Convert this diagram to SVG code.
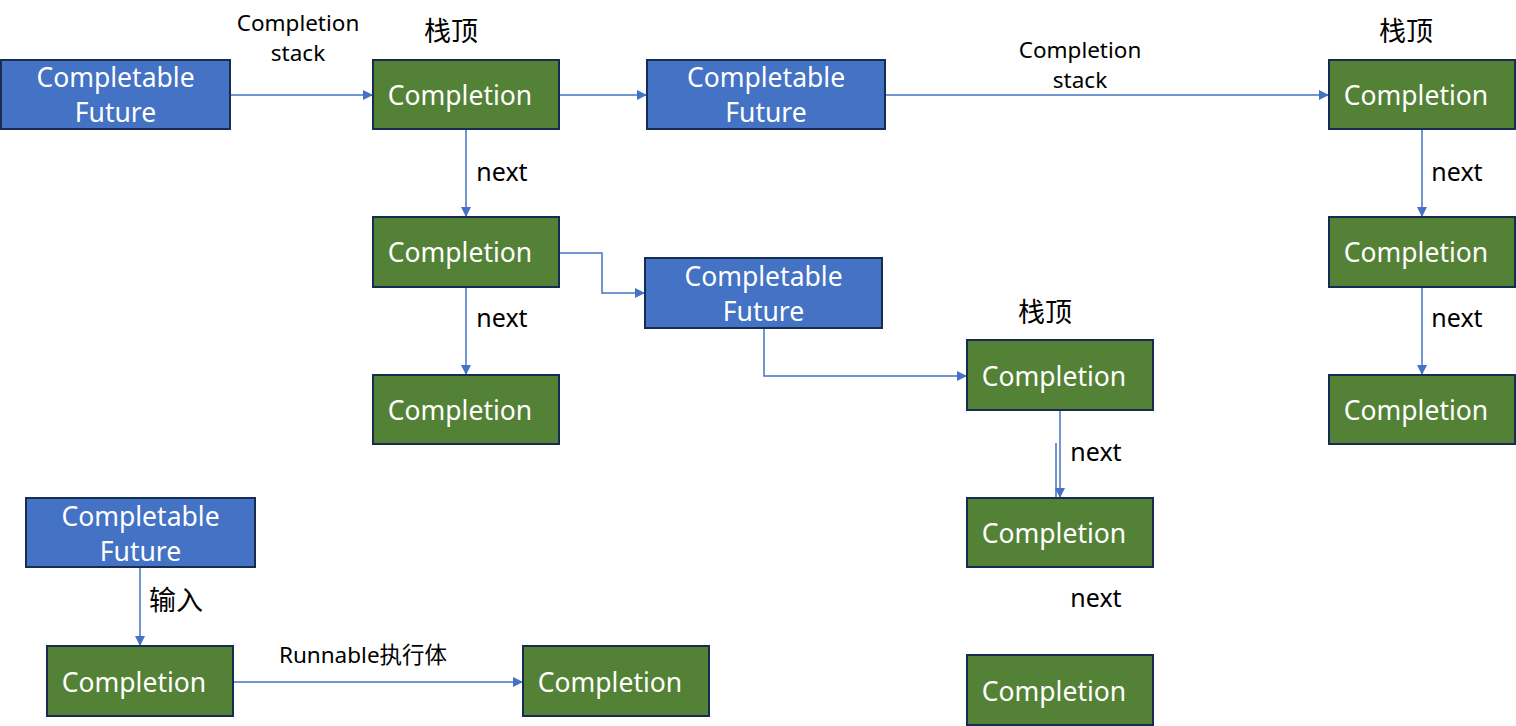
<svg xmlns="http://www.w3.org/2000/svg" width="1516" height="726" viewBox="0 0 1516 726">
<style>
.cf{fill:#4472C4;stroke:#172C51;stroke-width:2}
.cp{fill:#538135;stroke:#172C51;stroke-width:2}
.nt{font-family:"Noto Sans","Liberation Sans",sans-serif;font-size:26.5px;fill:#fff;text-anchor:middle}
.lb{font-family:"Noto Sans","Noto Sans CJK SC",sans-serif;font-size:25px;fill:#000;text-anchor:middle}
.lz{font-family:"Noto Sans CJK SC","Noto Sans",sans-serif;font-size:27px;fill:#000;text-anchor:middle}
.lc{font-family:"Noto Sans","Noto Sans CJK SC",sans-serif;font-size:22.5px;fill:#000;text-anchor:middle}
.cn{fill:none;stroke:#4472C4;stroke-width:1.5}
</style>
<defs>
<marker id="ah" markerWidth="10" markerHeight="10" refX="9" refY="5" orient="auto" markerUnits="userSpaceOnUse">
<path d="M0,0 L10,5 L0,10 z" fill="#4472C4"/>
</marker>
</defs>
<rect width="1516" height="726" fill="#fff"/>
<g id="connectors">
<path class="cn" d="M230,95 H372" marker-end="url(#ah)"/>
<path class="cn" d="M559,95 H646" marker-end="url(#ah)"/>
<path class="cn" d="M885,95 H1328" marker-end="url(#ah)"/>
<path class="cn" d="M466,129 V216" marker-end="url(#ah)"/>
<path class="cn" d="M466,287 V374" marker-end="url(#ah)"/>
<path class="cn" d="M559,253 H602 V293 H644" marker-end="url(#ah)"/>
<path class="cn" d="M764,328 V376 H966" marker-end="url(#ah)"/>
<path class="cn" d="M1422,129 V216" marker-end="url(#ah)"/>
<path class="cn" d="M1422,287 V374" marker-end="url(#ah)"/>
<path class="cn" d="M1060,410 V497" marker-end="url(#ah)"/>
<path class="cn" d="M1056,443 V530" marker-end="url(#ah)"/>
<path class="cn" d="M140,567 V645" marker-end="url(#ah)"/>
<path class="cn" d="M233,682 H522" marker-end="url(#ah)"/>
</g>
<g id="labels">
<text class="lc" x="298" y="31">Completion</text>
<text class="lc" x="298" y="61">stack</text>
<text class="lc" x="1080" y="58">Completion</text>
<text class="lc" x="1080" y="88">stack</text>
<text class="lz" x="451" y="41">栈顶</text>
<text class="lz" x="1406" y="41">栈顶</text>
<text class="lz" x="1045" y="322">栈顶</text>
<text class="lb" x="502" y="181">next</text>
<text class="lb" x="502" y="327">next</text>
<text class="lb" x="1457" y="181">next</text>
<text class="lb" x="1457" y="327">next</text>
<text class="lb" x="1096" y="461">next</text>
<text class="lb" x="1096" y="607">next</text>
<text class="lz" x="176" y="610">输入</text>
<text class="lc" x="363" y="663">Runnable执行体</text>
</g>
<g id="cf1"><rect class="cf" x="1" y="60" width="229" height="69"/><text class="nt" x="115.5" y="87">Completable</text><text class="nt" x="115.5" y="122">Future</text></g>
<g id="c1"><rect class="cp" x="373" y="60" width="186" height="69"/><text class="nt" x="460" y="105">Completion</text></g>
<g id="cf2"><rect class="cf" x="647" y="60" width="238" height="69"/><text class="nt" x="766" y="87">Completable</text><text class="nt" x="766" y="122">Future</text></g>
<g id="ctr1"><rect class="cp" x="1329" y="60" width="186" height="69"/><text class="nt" x="1416" y="105">Completion</text></g>
<g id="c2"><rect class="cp" x="373" y="217" width="186" height="70"/><text class="nt" x="460" y="262">Completion</text></g>
<g id="cf3"><rect class="cf" x="645" y="258" width="237" height="70"/><text class="nt" x="763.5" y="286">Completable</text><text class="nt" x="763.5" y="321">Future</text></g>
<g id="c3"><rect class="cp" x="373" y="375" width="186" height="69"/><text class="nt" x="460" y="420">Completion</text></g>
<g id="ctr2"><rect class="cp" x="1329" y="217" width="186" height="70"/><text class="nt" x="1416" y="262">Completion</text></g>
<g id="ctr3"><rect class="cp" x="1329" y="375" width="186" height="69"/><text class="nt" x="1416" y="420">Completion</text></g>
<g id="cm1"><rect class="cp" x="967" y="340" width="186" height="70"/><text class="nt" x="1054" y="386">Completion</text></g>
<g id="cm2"><rect class="cp" x="967" y="498" width="186" height="69"/><text class="nt" x="1054" y="543">Completion</text></g>
<g id="cm3"><rect class="cp" x="967" y="655" width="186" height="70"/><text class="nt" x="1054" y="701">Completion</text></g>
<g id="cf4"><rect class="cf" x="26" y="498" width="229" height="69"/><text class="nt" x="140.5" y="526">Completable</text><text class="nt" x="140.5" y="561">Future</text></g>
<g id="cbl"><rect class="cp" x="47" y="646" width="186" height="70"/><text class="nt" x="134" y="692">Completion</text></g>
<g id="cbr"><rect class="cp" x="523" y="646" width="186" height="70"/><text class="nt" x="610" y="692">Completion</text></g>
</svg>
